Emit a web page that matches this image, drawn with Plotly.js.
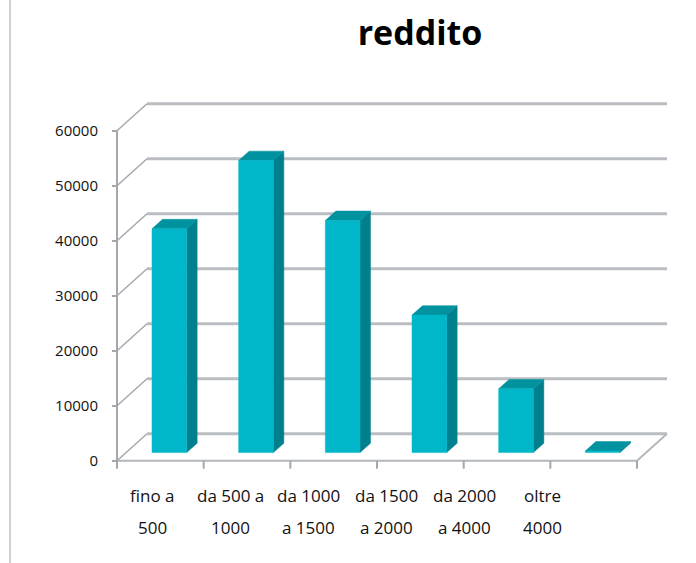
<!DOCTYPE html>
<html>
<head>
<meta charset="utf-8">
<script src="https://cdn.plot.ly/plotly-3.0.1.min.js"></script>
<style>html,body{margin:0;padding:0;background:#fff;}#chart{width:696px;height:563px;}</style>
</head>
<body>
<div id="chart"></div>
<script>
// ---- data ----
const categoriesLine1 = ["fino a", "da 500 a", "da 1000", "da 1500", "da 2000", "oltre"];
const categoriesLine2 = ["500", "1000", "a 1500", "a 2000", "a 4000", "4000"];
const values = [40700, 53100, 42200, 25000, 11600, 300];
const yTicks = [0, 10000, 20000, 30000, 40000, 50000, 60000];
const chartTitle = "reddito";

// ---- projection / style parameters ----
const W = 696, H = 563;
const PX_PER_CAT = 86.67, X0PX = 117;          // front plane x origin
const PX_PER_UNIT_Y = 0.0055, Y0PX = 460.7;     // front plane y origin
const DX = 0.346, DY = 4900;                    // oblique depth offset (x units, y units)
const FA = 0.30, FB = 0.65;                     // bar front/back depth fractions
const HALF_W = 0.2;
const nCat = values.length;

const plotL = 105, plotR = 675, plotT = 95, plotB = 470;
const xMin = (plotL - X0PX) / PX_PER_CAT, xMax = (plotR - X0PX) / PX_PER_CAT;
const yMin = -(plotB - Y0PX) / PX_PER_UNIT_Y, yMax = (Y0PX - plotT) / PX_PER_UNIT_Y;

const traces = [];
function lineTrace(xs, ys, color, width) {
  traces.push({type: 'scatter', mode: 'lines', x: xs, y: ys, hoverinfo: 'skip',
    line: {color: color, width: width}, showlegend: false});
}

// back wall gridlines
{
  const xs = [], ys = [];
  yTicks.forEach(v => { xs.push(DX, nCat + DX, null); ys.push(v + DY, v + DY, null); });
  lineTrace(xs, ys, '#BABEC2', 3);
}
// left wall diagonals
{
  const xs = [], ys = [];
  yTicks.forEach(v => { xs.push(0, DX, null); ys.push(v, v + DY, null); });
  lineTrace(xs, ys, '#A4A8AC', 1.5);
}
// floor front edge + right diagonal
lineTrace([0, nCat, nCat + DX], [0, 0, DY], '#B4B8BC', 2);
// x ticks (category boundaries)
{
  const xs = [], ys = [];
  for (let i = 0; i <= nCat; i++) { xs.push(i, i, null); ys.push(0, -8 / PX_PER_UNIT_Y, null); }
  lineTrace(xs, ys, '#A4A8AC', 2);
}
// front vertical axis
lineTrace([0, 0], [0, yTicks[yTicks.length - 1]], '#A4A8AC', 2);

// bars (side, top, front)
const sideFace = {x: [], y: []}, topFace = {x: [], y: []}, frontFace = {x: [], y: []};
values.forEach((v, i) => {
  const xl = i + 0.5 - HALF_W, xr = i + 0.5 + HALF_W;
  const ax = FA * DX, ay = FA * DY, bx = FB * DX, by = FB * DY;
  sideFace.x.push(xr + ax, xr + bx, xr + bx, xr + ax, xr + ax, null);
  sideFace.y.push(ay, by, v + by, v + ay, ay, null);
  topFace.x.push(xl + ax, xr + ax, xr + bx, xl + bx, xl + ax, null);
  topFace.y.push(v + ay, v + ay, v + by, v + by, v + ay, null);
  frontFace.x.push(xl + ax, xr + ax, xr + ax, xl + ax, xl + ax, null);
  frontFace.y.push(ay, ay, v + ay, v + ay, ay, null);
});
[[sideFace, '#00808C'], [topFace, '#00939F'], [frontFace, '#00B6C9']].forEach(([f, c]) => {
  traces.push({type: 'scatter', mode: 'lines', x: f.x, y: f.y, fill: 'toself', fillcolor: c,
    line: {color: c, width: 0.5}, hoverinfo: 'skip', showlegend: false});
});

// category labels
const annotations = [];
categoriesLine1.forEach((t, i) => {
  const xa = 0.415 + 0.9 * i;
  annotations.push({text: t, xref: 'x', x: xa, yref: 'paper', y: (H - 495) / H, yanchor: 'middle',
    xanchor: 'center', showarrow: false, font: {size: 17, color: '#111', family: 'Open Sans, sans-serif'}});
  annotations.push({text: categoriesLine2[i], xref: 'x', x: xa, yref: 'paper', y: (H - 527) / H, yanchor: 'middle',
    xanchor: 'center', showarrow: false, font: {size: 17, color: '#111', family: 'Open Sans, sans-serif'}});
});

const layout = {
  width: W, height: H,
  margin: {l: 0, r: 0, t: 0, b: 0},
  paper_bgcolor: '#fff', plot_bgcolor: 'rgba(0,0,0,0)',
  showlegend: false,
  title: {text: '<b>' + chartTitle + '</b>', xref: 'container', yref: 'container',
    x: 420 / W, y: 1 - 33 / H, xanchor: 'center', yanchor: 'middle',
    font: {size: 34, color: '#000', family: 'Open Sans, sans-serif'}},
  xaxis: {domain: [plotL / W, plotR / W], range: [xMin, xMax], showgrid: false, zeroline: false,
    showline: false, showticklabels: false, ticks: '', fixedrange: true},
  yaxis: {domain: [(H - plotB) / H, (H - plotT) / H], range: [yMin, yMax], anchor: 'free',
    position: X0PX / W, showgrid: false, zeroline: false, showline: false,
    tickmode: 'array', tickvals: yTicks, ticktext: yTicks.map(String),
    ticks: 'outside', ticklen: 5, tickwidth: 2, tickcolor: '#A4A8AC', ticklabelstandoff: 11,
    tickfont: {size: 15, color: '#111', family: 'Open Sans, sans-serif'}, fixedrange: true},
  annotations: annotations,
  shapes: [{type: 'line', xref: 'paper', yref: 'paper', x0: 10 / W, x1: 10 / W, y0: 0, y1: 1,
    line: {color: '#C0C0C0', width: 1.5}}]
};

Plotly.newPlot('chart', traces, layout, {displayModeBar: false, staticPlot: true});
</script>
</body>
</html>
